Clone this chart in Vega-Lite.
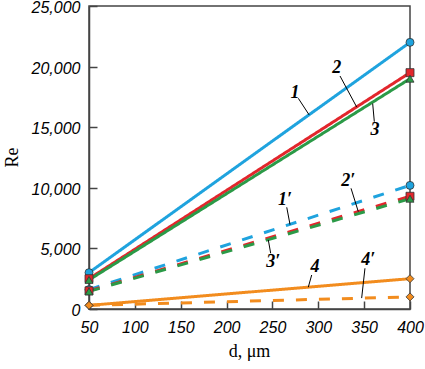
{
  "$schema": "https://vega.github.io/schema/vega-lite/v6.json",
  "autosize": "none",
  "width": 321,
  "height": 303,
  "padding": {"left": 89, "top": 6, "right": 15, "bottom": 60},
  "background": "white",
  "config": {
    "view": {"stroke": "#444", "strokeWidth": 1.5},
    "axis": {
      "grid": false,
      "domainColor": "#444",
      "domainWidth": 1.5,
      "tickColor": "#444",
      "tickWidth": 1.5,
      "tickSize": -8,
      "labelFlush": false,
      "labelOverlap": false,
      "labelBound": false,
      "labelFont": "Liberation Sans",
      "labelFontStyle": "italic",
      "labelFontSize": 16,
      "labelColor": "black",
      "titleFont": "Liberation Serif",
      "titleFontSize": 18,
      "titleFontWeight": "normal",
      "titleColor": "black"
    }
  },
  "datasets": {
    "curves": [
      {"series": "1", "curve": "1", "style": "solid", "d": 50, "Re": 3000},
      {"series": "1", "curve": "1", "style": "solid", "d": 400, "Re": 22000},
      {"series": "2", "curve": "2", "style": "solid", "d": 50, "Re": 2500},
      {"series": "2", "curve": "2", "style": "solid", "d": 400, "Re": 19500},
      {"series": "3", "curve": "3", "style": "solid", "d": 50, "Re": 2400},
      {"series": "3", "curve": "3", "style": "solid", "d": 400, "Re": 19000},
      {"series": "1′", "curve": "1", "style": "dashed", "d": 50, "Re": 1600},
      {"series": "1′", "curve": "1", "style": "dashed", "d": 400, "Re": 10200},
      {"series": "2′", "curve": "2", "style": "dashed", "d": 50, "Re": 1500},
      {"series": "2′", "curve": "2", "style": "dashed", "d": 400, "Re": 9300},
      {"series": "3′", "curve": "3", "style": "dashed", "d": 50, "Re": 1450},
      {"series": "3′", "curve": "3", "style": "dashed", "d": 400, "Re": 9100},
      {"series": "4", "curve": "4", "style": "solid", "d": 50, "Re": 300},
      {"series": "4", "curve": "4", "style": "solid", "d": 400, "Re": 2500},
      {"series": "4′", "curve": "4", "style": "dashed", "d": 50, "Re": 300},
      {"series": "4′", "curve": "4", "style": "dashed", "d": 400, "Re": 1000}
    ],
    "labels": [
      {"label": "1", "x": 274.6, "y": 17822, "x1": 278.2, "y1": 17385, "x2": 290.1, "y2": 16007},
      {"label": "2", "x": 320.1, "y": 19860, "x1": 323.7, "y1": 19224, "x2": 341.9, "y2": 16660},
      {"label": "3", "x": 361.8, "y": 14769, "x1": 361.1, "y1": 15454, "x2": 359.3, "y2": 16950},
      {"label": "1′", "x": 263.7, "y": 8993, "x1": 265.6, "y1": 8391, "x2": 269.2, "y2": 6960},
      {"label": "2′", "x": 332.7, "y": 10586, "x1": 335.7, "y1": 9959, "x2": 343.6, "y2": 8040},
      {"label": "3′", "x": 250.9, "y": 3903, "x1": 248.1, "y1": 4596, "x2": 245.5, "y2": 5700},
      {"label": "4", "x": 296.4, "y": 3490, "x1": 292.8, "y1": 2805, "x2": 289.1, "y2": 1800},
      {"label": "4′", "x": 354.5, "y": 4043, "x1": 350.9, "y1": 3358, "x2": 347.3, "y2": 900}
    ]
  },
  "layer": [
    {
      "data": {"name": "curves"},
      "mark": {"type": "line", "strokeWidth": 3, "clip": false},
      "encoding": {
        "x": {
          "field": "d", "type": "quantitative",
          "scale": {"domain": [50, 400], "nice": false, "zero": false},
          "axis": {"values": [50, 100, 150, 200, 250, 300, 350, 400], "format": "d", "title": "d, μm", "labelPadding": 18, "titleX": 160, "titleY": 42, "titleBaseline": "middle"}
        },
        "y": {
          "field": "Re", "type": "quantitative",
          "scale": {"domain": [0, 25000], "nice": false},
          "axis": {"values": [0, 5000, 10000, 15000, 20000, 25000], "format": ",.0f", "title": "Re", "labelPadding": 17, "labelOffset": 1.5, "titleX": -77, "titleY": 151, "titleBaseline": "middle", "titleAngle": 270}
        },
        "color": {
          "field": "curve", "type": "nominal",
          "scale": {"domain": ["1", "2", "3", "4"], "range": ["#1fa3de", "#e2262c", "#2b9a47", "#f28c1e"]},
          "legend": null
        },
        "strokeDash": {
          "field": "style", "type": "nominal",
          "scale": {"domain": ["solid", "dashed"], "range": [[1, 0], [11, 12]]},
          "legend": null
        },
        "detail": {"field": "series"}
      }
    },
    {
      "data": {"name": "curves"},
      "mark": {"type": "point", "filled": true, "size": 64, "stroke": "#333", "strokeWidth": 0.8, "opacity": 1, "clip": false},
      "encoding": {
        "x": {"field": "d", "type": "quantitative"},
        "y": {"field": "Re", "type": "quantitative"},
        "fill": {
          "field": "curve", "type": "nominal",
          "scale": {"domain": ["1", "2", "3", "4"], "range": ["#1fa3de", "#e2262c", "#2b9a47", "#f28c1e"]},
          "legend": null
        },
        "shape": {
          "field": "curve", "type": "nominal",
          "scale": {"domain": ["1", "2", "3", "4"], "range": ["circle", "square", "triangle-up", "diamond"]},
          "legend": null
        }
      }
    },
    {
      "data": {"name": "labels"},
      "mark": {"type": "rule", "color": "black", "strokeWidth": 1},
      "encoding": {
        "x": {"field": "x1", "type": "quantitative"},
        "y": {"field": "y1", "type": "quantitative"},
        "x2": {"field": "x2"},
        "y2": {"field": "y2"}
      }
    },
    {
      "data": {"name": "labels"},
      "mark": {"type": "text", "font": "Liberation Serif", "fontSize": 18, "fontWeight": "bold", "fontStyle": "italic", "color": "black", "align": "center", "baseline": "middle"},
      "encoding": {
        "x": {"field": "x", "type": "quantitative"},
        "y": {"field": "y", "type": "quantitative"},
        "text": {"field": "label"}
      }
    }
  ]
}
